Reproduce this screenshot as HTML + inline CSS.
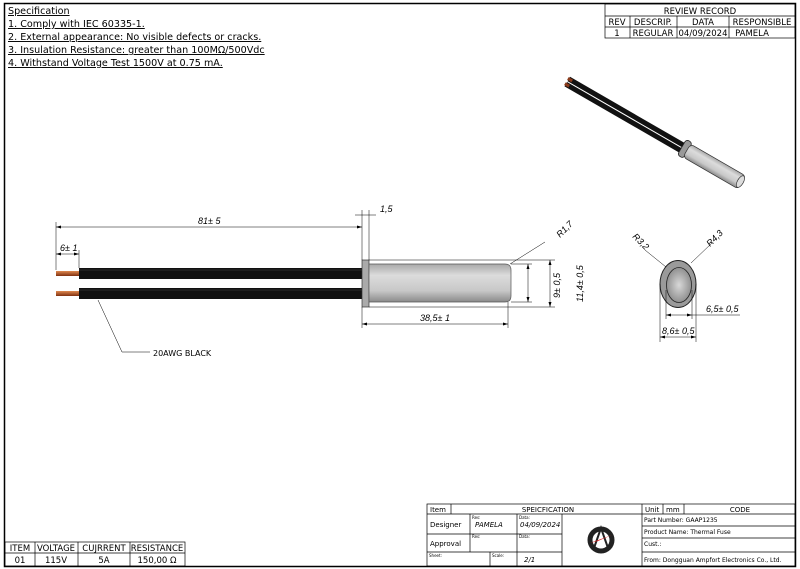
<!DOCTYPE html>
<html><head><meta charset="utf-8"><style>
html,body{margin:0;padding:0;background:#fff;}
svg{display:block;}
text{font-family:"DejaVu Sans","Liberation Sans",sans-serif;fill:#000;}
.d{font-family:"Liberation Sans",sans-serif;font-style:italic;font-size:9px;}
.t{font-size:8.5px;}
.s{font-size:4px;}
</style></head><body>
<svg width="800" height="569" viewBox="0 0 800 569" xmlns="http://www.w3.org/2000/svg">
<defs>
<linearGradient id="bg" x1="0" y1="0" x2="0" y2="1"><stop offset="0" stop-color="#a8a8a8"/><stop offset="0.3" stop-color="#dcdcdc"/><stop offset="0.7" stop-color="#c8c8c8"/><stop offset="1" stop-color="#8a8a8a"/></linearGradient>
<linearGradient id="cu" x1="0" y1="0" x2="0" y2="1"><stop offset="0" stop-color="#e08a50"/><stop offset="1" stop-color="#803010"/></linearGradient>
<radialGradient id="rg"><stop offset="0" stop-color="#d8d8d8"/><stop offset="1" stop-color="#909090"/></radialGradient>
</defs>
<rect x="4.5" y="3.5" width="791" height="563" fill="none" stroke="#000" stroke-width="1.5"/>
<g font-size="9.6" text-decoration="underline" xml:space="preserve">
<text x="8" y="14">Specification</text>
<text x="8" y="27">1.  Comply with IEC 60335-1.</text>
<text x="8" y="40">2.  External appearance: No visible defects or cracks.</text>
<text x="8" y="53">3.  Insulation Resistance: greater than 100MΩ/500Vdc</text>
<text x="8" y="66">4.  Withstand Voltage Test 1500V at 0.75 mA.</text>
</g>
<!-- review -->
<g stroke="#000" stroke-width="0.7" fill="none">
<rect x="605" y="4" width="190" height="34"/>
<line x1="605" y1="16" x2="795" y2="16"/><line x1="605" y1="27" x2="795" y2="27"/>
<line x1="630" y1="16" x2="630" y2="38"/><line x1="677" y1="16" x2="677" y2="38"/><line x1="729" y1="16" x2="729" y2="38"/>
</g>
<g class="t" text-anchor="middle"><text x="700" y="14">REVIEW RECORD</text>
<text x="617" y="25">REV</text><text x="653" y="25">DESCRIP.</text><text x="703" y="25">DATA</text><text x="762" y="25">RESPONSIBLE</text>
<text x="617" y="36">1</text><text x="653" y="36">REGULAR</text><text x="703" y="36">04/09/2024</text><text x="752" y="36">PAMELA</text></g>
<!-- 3D view -->
<g transform="translate(567,82) rotate(30)">
<rect x="0" y="-6" width="134" height="5" fill="#111"/><rect x="0" y="0" width="134" height="5" fill="#111"/>
<rect x="-1" y="-5" width="5" height="3" fill="#8a3a1a"/><rect x="-1" y="1" width="5" height="3" fill="#8a3a1a"/>
<rect x="132" y="-10" width="7" height="18" rx="3" fill="#999" stroke="#222" stroke-width="0.8"/>
<rect x="138" y="-8" width="64" height="15" rx="4" fill="url(#bg)" stroke="#333" stroke-width="0.7"/>
<ellipse cx="200" cy="-0.5" rx="3" ry="6.5" fill="#ddd" stroke="#333" stroke-width="0.7"/>
</g>
<!-- front view wires -->
<rect x="79" y="268" width="284" height="11" fill="#111"/><rect x="79" y="288" width="284" height="11" fill="#111"/>
<line x1="79" y1="270" x2="363" y2="270" stroke="#444" stroke-width="0.6"/><line x1="79" y1="290" x2="363" y2="290" stroke="#444" stroke-width="0.6"/>
<rect x="56" y="271" width="23" height="5" fill="url(#cu)"/><rect x="56" y="291" width="23" height="5" fill="url(#cu)"/>
<rect x="362" y="260" width="7" height="47" fill="#aaa" stroke="#333" stroke-width="0.7"/>
<path d="M369 264 H505 Q511 264 511 270 V296 Q511 302 505 302 H369 Z" fill="url(#bg)" stroke="#555" stroke-width="0.7"/>
<g stroke="#000" stroke-width="0.5" fill="none">
<line x1="56" y1="222" x2="56" y2="270"/><line x1="362" y1="210" x2="362" y2="260"/><line x1="369" y1="210" x2="369" y2="260"/>
<line x1="56" y1="227" x2="362" y2="227"/><line x1="56" y1="254" x2="79" y2="254"/><line x1="79" y1="250" x2="79" y2="268"/>
<line x1="355" y1="215" x2="376" y2="215"/>
<line x1="369" y1="260" x2="555" y2="260"/><line x1="369" y1="307" x2="555" y2="307"/>
<line x1="511" y1="264" x2="532" y2="264"/><line x1="511" y1="302" x2="532" y2="302"/>
<line x1="528" y1="264" x2="528" y2="302"/><line x1="550" y1="260" x2="550" y2="307"/>
<line x1="362" y1="307" x2="362" y2="328"/><line x1="508" y1="302" x2="508" y2="328"/>
<line x1="362" y1="324" x2="508" y2="324"/>
<line x1="510" y1="264" x2="545" y2="242"/>
<polyline points="98,300 122,352 150,352"/>
</g>
<g fill="#000">
<path d="M56 227 l5 -1.5 v3z M362 227 l-5 -1.5 v3z M56 254 l5 -1.5 v3z M79 254 l-5 -1.5 v3z M362 324 l5 -1.5 v3z M508 324 l-5 -1.5 v3z M528 264 l-1.5 5 h3z M528 302 l-1.5 -5 h3z M550 260 l-1.5 5 h3z M550 307 l-1.5 -5 h3z"/>
</g>
<text class="d" x="198" y="224">81± 5</text>
<text class="d" x="380" y="212">1,5</text>
<text class="d" x="60" y="251">6± 1</text>
<text class="d" x="420" y="321">38,5± 1</text>
<text class="d" transform="translate(560,238) rotate(-45)">R1,7</text>
<text class="d" transform="translate(560,298) rotate(-90)">9± 0,5</text>
<text class="d" transform="translate(583,302) rotate(-90)">11,4± 0,5</text>
<text x="153" y="356" font-size="8" font-family="Liberation Sans,sans-serif">20AWG BLACK</text>
<!-- side view -->
<ellipse cx="678" cy="284" rx="18" ry="23.5" fill="#9a9a9a" stroke="#222" stroke-width="1"/>
<ellipse cx="679" cy="285" rx="12.5" ry="17.5" fill="url(#rg)" stroke="#222" stroke-width="0.8"/>
<g stroke="#000" stroke-width="0.5" fill="none">
<line x1="660" y1="284" x2="660" y2="342"/><line x1="696" y1="284" x2="696" y2="342"/>
<line x1="666" y1="290" x2="666" y2="319"/><line x1="692" y1="290" x2="692" y2="319"/>
<line x1="660" y1="337" x2="696" y2="337"/><line x1="666" y1="315" x2="740" y2="315"/>
<line x1="666" y1="267" x2="645" y2="250"/><line x1="691" y1="263" x2="712" y2="243"/>
</g>
<path d="M660 337 l5 -1.5 v3z M696 337 l-5 -1.5 v3z M666 315 l5 -1.5 v3z M692 315 l-5 -1.5 v3z"/>
<text class="d" x="706" y="312">6,5± 0,5</text>
<text class="d" x="662" y="334">8,6± 0,5</text>
<text class="d" transform="translate(632,237) rotate(45)">R3,2</text>
<text class="d" transform="translate(710,247) rotate(-45)">R4,3</text>
<!-- item table -->
<g stroke="#000" stroke-width="0.7" fill="none">
<rect x="5" y="542" width="180" height="24"/><line x1="5" y1="553" x2="185" y2="553"/>
<line x1="35" y1="542" x2="35" y2="566"/><line x1="78" y1="542" x2="78" y2="566"/><line x1="130" y1="542" x2="130" y2="566"/>
</g>
<g class="t" text-anchor="middle"><text x="20" y="551">ITEM</text><text x="56" y="551">VOLTAGE</text><text x="104" y="551">CUJRRENT</text><text x="157" y="551">RESISTANCE</text>
<text x="20" y="563">01</text><text x="56" y="563">115V</text><text x="104" y="563">5A</text><text x="157" y="563">150,00 Ω</text></g>
<!-- title block -->
<g stroke="#000" stroke-width="0.7" fill="none">
<rect x="427" y="504" width="368" height="62"/>
<line x1="427" y1="514" x2="795" y2="514"/>
<line x1="451" y1="504" x2="451" y2="514"/>
<line x1="427" y1="534" x2="562" y2="534"/><line x1="427" y1="552" x2="562" y2="552"/>
<line x1="470" y1="514" x2="470" y2="552"/><line x1="517" y1="514" x2="517" y2="566"/>
<line x1="490" y1="552" x2="490" y2="566"/>
<line x1="562" y1="514" x2="562" y2="566"/><line x1="642" y1="504" x2="642" y2="566"/>
<line x1="663" y1="504" x2="663" y2="514"/><line x1="684" y1="504" x2="684" y2="514"/>
<line x1="642" y1="526" x2="795" y2="526"/><line x1="642" y1="538" x2="795" y2="538"/><line x1="642" y1="552" x2="795" y2="552"/>
</g>
<g font-size="7" font-family="Liberation Sans,sans-serif">
<text x="430" y="512">Item</text><text x="548" y="512" text-anchor="middle">SPEICFICATION</text>
<text x="645" y="512">Unit</text><text x="666" y="512">mm</text><text x="740" y="512" text-anchor="middle">CODE</text>
<text x="430" y="527">Designer</text><text x="430" y="546">Approval</text>
<text x="475" y="527" font-style="italic">PAMELA</text><text x="520" y="527" font-style="italic">04/09/2024</text>
<text x="524" y="562" font-style="italic">2/1</text>
<text x="644" y="522" font-size="6">Part Number: GAAP1235</text>
<text x="644" y="534" font-size="6">Product Name: Thermal Fuse</text>
<text x="644" y="546" font-size="6">Cust.:</text>
<text x="644" y="562" font-size="6">From: Dongguan Ampfort Electronics Co., Ltd.</text>
</g>
<g class="s"><text x="472" y="519">Res:</text><text x="519" y="519">Data:</text><text x="472" y="538">Res:</text><text x="519" y="538">Data:</text><text x="429" y="557">Sheet:</text><text x="492" y="557">Scale:</text></g>
<circle cx="601" cy="540" r="11" fill="none" stroke="#222" stroke-width="5"/>
<path d="M594 548 L601 528 L608 548" fill="none" stroke="#222" stroke-width="2"/>
<path d="M590 543 L612 535 L598 541 Z" fill="#d22"/>
</svg>
</body></html>
